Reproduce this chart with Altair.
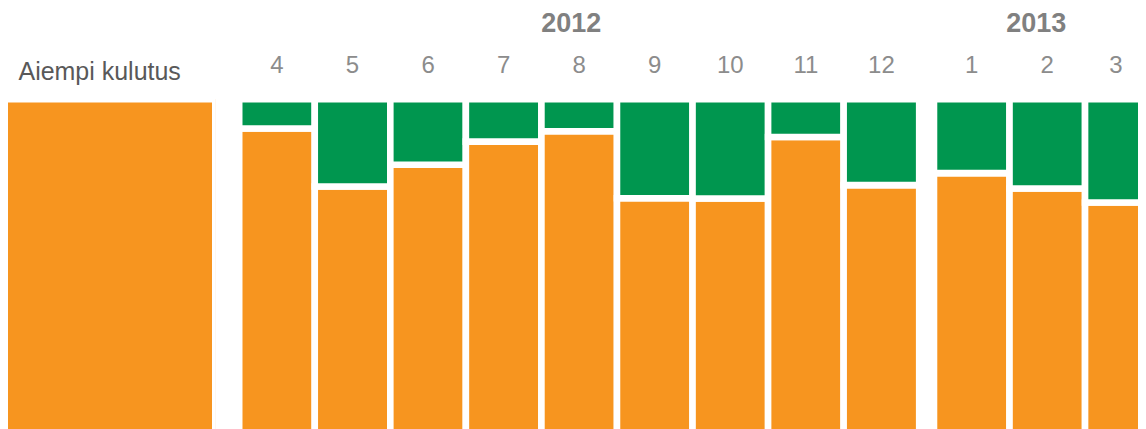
import altair as alt
import pandas as pd

# ---- data (share of previous consumption, %) ----
prev_label = ["Aiempi kulutus"]
prev_value = [100]

months_2012 = ["4", "5", "6", "7", "8", "9", "10", "11", "12"]
kulutus_2012 = [91.2, 73.9, 80.4, 87.3, 90.4, 70.4, 70.3, 88.7, 74.3]
saasto_2012 = [8.8, 26.1, 19.6, 12.7, 9.6, 29.6, 29.7, 11.3, 25.7]

months_2013 = ["1", "2", "3"]
kulutus_2013 = [77.9, 73.3, 69.1]
saasto_2013 = [22.1, 26.7, 30.9]

series = ["Kulutus", "Säästö"]
ORANGE = "#f7951f"
GREEN = "#00964f"
FONT = "Liberation Sans"


def long_table(months, kul, saa):
    rows = []
    for m, k, s in zip(months, kul, saa):
        rows.append({"kk": m, "sarja": series[0], "arvo": k, "jarj": 0})
        rows.append({"kk": m, "sarja": series[1], "arvo": s, "jarj": 1})
    return pd.DataFrame(rows)


df_prev = pd.DataFrame({"kk": prev_label, "arvo": prev_value})
df_2012 = long_table(months_2012, kulutus_2012, saasto_2012)
df_2013 = long_table(months_2013, kulutus_2013, saasto_2013)

H = 335
STROKE = 6.6
yenc = alt.Y("arvo:Q", stack="zero", scale=alt.Scale(domain=[0, 100], nice=False), axis=None)
color = alt.Color("sarja:N", scale=alt.Scale(domain=series, range=[ORANGE, GREEN]), legend=None)
order = alt.Order("jarj:Q")

month_axis = dict(orient="top", labelFontSize=24, labelColor="#8c8c8c", labelPadding=27)

p1 = alt.Chart(df_prev).mark_bar(color=ORANGE, stroke="white", strokeWidth=STROKE, clip=True).encode(
    x=alt.X("kk:N", title=None,
            scale=alt.Scale(range=[-20, 207.5], paddingInner=0, paddingOuter=0),
            axis=alt.Axis(orient="top", labelFontSize=25, labelColor="#595959", labelPadding=20, labelOffset=-2)),
    y=alt.Y("arvo:Q", scale=alt.Scale(domain=[0, 100], nice=False), axis=None),
).properties(width=207.5, height=H)

p2 = alt.Chart(df_2012).mark_bar(stroke="white", strokeWidth=STROKE).encode(
    x=alt.X("kk:N", sort=months_2012, title=None,
            scale=alt.Scale(paddingInner=0, paddingOuter=0),
            axis=alt.Axis(**month_axis)),
    y=yenc, color=color, order=order,
).properties(
    width=680.6, height=H,
    title=alt.TitleParams("2012", fontSize=27, fontWeight="bold", color="#808080", font=FONT,
                          baseline="alphabetic", offset=-6, dx=-8),
)

p3 = alt.Chart(df_2013).mark_bar(stroke="white", strokeWidth=STROKE).encode(
    x=alt.X("kk:N", sort=months_2013, title=None,
            scale=alt.Scale(paddingInner=0, paddingOuter=0),
            axis=alt.Axis(**month_axis,
                          labelOffset={"condition": {"test": "datum.value === '3'", "value": -7}, "value": 0})),
    y=yenc, color=color, order=order,
).properties(
    width=226.8, height=H,
    title=alt.TitleParams("2013", fontSize=27, fontWeight="bold", color="#808080", font=FONT,
                          baseline="alphabetic", offset=-6, dx=-11),
)

right = alt.hconcat(p2, p3, spacing=14.4, bounds="flush")
chart = alt.hconcat(p1, right, spacing=23.4, bounds="flush").properties(
    padding={"left": 0, "top": 2, "right": -26, "bottom": 0}
).configure_view(strokeWidth=0).configure_axis(
    ticks=False, tickSize=0, domain=False, grid=False, labelFont=FONT,
    labelBaseline="alphabetic", labelAngle=0,
)

chart.save("out.html", embed_options={"renderer": "svg", "actions": False})
